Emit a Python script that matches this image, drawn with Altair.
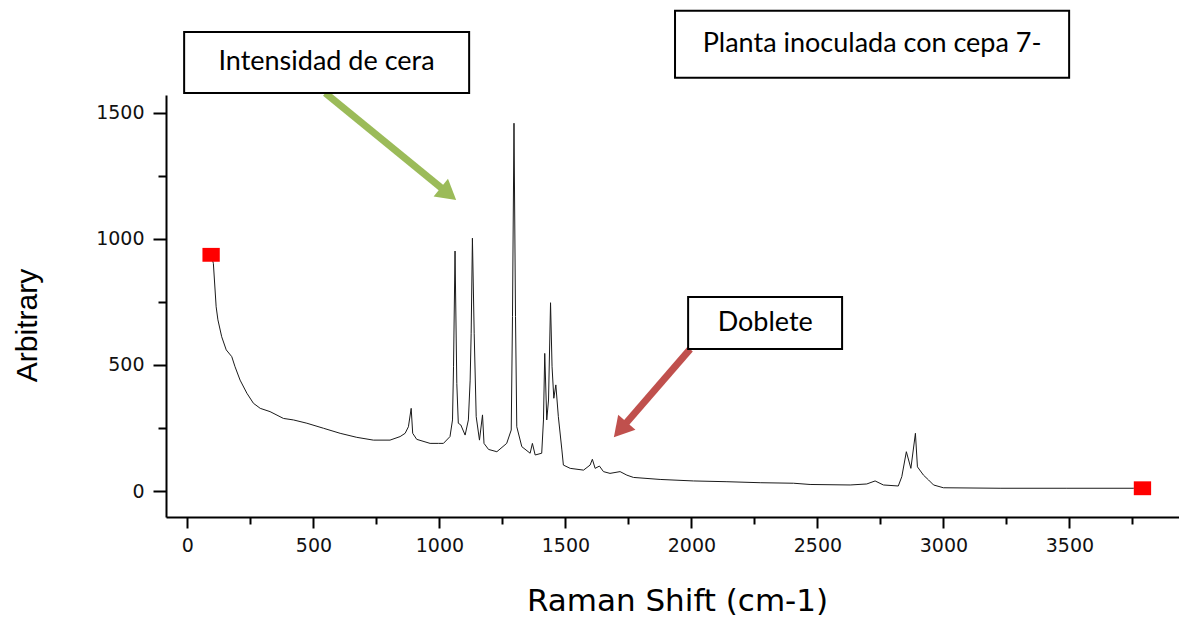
import altair as alt
import pandas as pd

# Spectrum values
shift = [94, 103, 114, 121, 136, 154, 176, 189, 209, 236, 262, 289, 328, 381, 421, 474, 540, 606, 672, 738,
         804, 844, 864, 877, 888, 894, 910, 963, 996, 1016, 1042, 1052, 1056, 1062, 1069, 1075, 1085, 1102,
         1115, 1122, 1126, 1131, 1138, 1146, 1159, 1171, 1177, 1195, 1228, 1267, 1285, 1290, 1296, 1302,
         1307, 1327, 1360, 1369, 1380, 1406, 1413, 1418, 1426, 1433, 1441, 1447, 1454, 1462, 1472, 1486,
         1492, 1519, 1572, 1598, 1607, 1618, 1635, 1651, 1677, 1717, 1744, 1770, 1876, 2008, 2141, 2273,
         2405, 2471, 2630, 2696, 2729, 2762, 2821, 2835, 2853, 2871, 2889, 2897, 2921, 2941, 2961, 3000,
         3225, 3490, 3754, 3790]
intensity = [937, 903, 731, 679, 612, 560, 533, 493, 440, 388, 348, 328, 315, 288, 282, 269, 249, 229, 213, 202,
             202, 216, 229, 255, 328, 229, 205, 189, 189, 189, 216, 282, 493, 952, 427, 269, 262, 222,
             282, 440, 626, 1003, 626, 295, 202, 302, 189, 165, 156, 189, 242, 692, 1459, 692,
             255, 176, 150, 189, 143, 150, 282, 546, 282, 361, 747, 493, 368, 421, 295, 163,
             103, 90, 83, 103, 126, 90, 99, 77, 70, 77, 63, 54, 46, 40, 37, 33,
             31, 26, 24, 28, 40, 24, 20, 57, 156, 90, 229, 96, 63, 44, 24, 13,
             11, 11, 11, 11]

x_major = [0, 500, 1000, 1500, 2000, 2500, 3000, 3500]
x_minor = [250, 750, 1250, 1750, 2250, 2750, 3250, 3750]
y_major = [0, 500, 1000, 1500]
y_minor = [250, 750, 1250]

box_labels = ["Intensidad de cera", "Planta inoculada con cepa 7-", "Doblete"]
box_x = [-13, 1935, 1987]
box_x2 = [1118, 3499, 2598]
box_y = [1821, 1905, 770]
box_y2 = [1579, 1639, 563]
text_x = [552, 2717, 2293]
text_y = [1702, 1774, 667]

arrow_x = [547, 1995]
arrow_y = [1579, 563]
arrow_x2 = [1036, 1718]
arrow_y2 = [1179, 243]
arrow_angle = [129, 221]
arrow_color = ["#9BBB59", "#C0504D"]

spec = pd.DataFrame({"x": shift, "y": intensity})
ends = spec.iloc[[0, len(spec) - 1]]
boxes = pd.DataFrame({"x": box_x, "x2": box_x2, "y": box_y, "y2": box_y2})
texts = pd.DataFrame({"x": text_x, "y": text_y, "label": box_labels})
arrows = pd.DataFrame({"x": arrow_x, "y": arrow_y, "x2": arrow_x2, "y2": arrow_y2,
                       "angle": arrow_angle, "color": arrow_color})

xs = alt.Scale(domain=[-85, 3935], nice=False, zero=False)
ys = alt.Scale(domain=[-103, 1571], nice=False, zero=False)

FONT = "Arial, Liberation Sans, sans-serif"
lab = dict(labelFont="DejaVu Sans", labelFontSize=19, labelColor="#111",
           domainColor="black", tickColor="black", grid=False)

x_major_axis = alt.Axis(values=x_major, orient="bottom", title="Raman Shift (cm-1)", tickSize=11, tickWidth=2,
                        domainWidth=2, labelPadding=8, titleFont="DejaVu Sans", titleFontSize=31,
                        titleFontWeight="normal", titleColor="black", titleX=511, titleY=84,
                        titleBaseline="middle", titleAlign="center", format="d", **lab)
y_major_axis = alt.Axis(values=y_major, orient="left", title="Arbitrary", tickSize=13, tickWidth=2,
                        domainWidth=2, labelPadding=9, titleFont=FONT, titleFontSize=30,
                        titleFontWeight="normal", titleColor="black", titleX=-139, titleY=230,
                        titleBaseline="middle", titleAlign="center", titleAngle=270, format="d", **lab)
x_minor_axis = alt.Axis(values=x_minor, orient="bottom", title=None, labels=False, tickSize=7, tickWidth=2,
                        domain=False, tickColor="black", grid=False)
y_minor_axis = alt.Axis(values=y_minor, orient="left", title=None, labels=False, tickSize=8, tickWidth=2,
                        domain=False, tickColor="black", grid=False)

line = alt.Chart(spec).mark_line(color="#1a1a1a", strokeWidth=1).encode(
    x=alt.X("x:Q", scale=xs, axis=x_major_axis),
    y=alt.Y("y:Q", scale=ys, axis=y_major_axis),
)

marks = alt.Chart(ends).mark_point(
    shape="M-1,-0.8L1,-0.8L1,0.8L-1,0.8Z", filled=True, size=300, color="#ff0000", opacity=1
).encode(
    x=alt.X("x:Q", scale=xs, axis=x_minor_axis),
    y=alt.Y("y:Q", scale=ys, axis=y_minor_axis),
)

rects = alt.Chart(boxes).mark_rect(fill="white", stroke="black", strokeWidth=2).encode(
    x=alt.X("x:Q", scale=xs, axis=None), x2="x2:Q",
    y=alt.Y("y:Q", scale=ys, axis=None), y2="y2:Q",
)

labels = alt.Chart(texts).mark_text(font="Lato", fontSize=27, color="black",
                                   align="center", baseline="middle").encode(
    x=alt.X("x:Q", scale=xs, axis=None),
    y=alt.Y("y:Q", scale=ys, axis=None),
    text="label:N",
)

shafts = alt.Chart(arrows).mark_rule(strokeWidth=7).encode(
    x=alt.X("x:Q", scale=xs, axis=None), x2="x2:Q",
    y=alt.Y("y:Q", scale=ys, axis=None), y2="y2:Q",
    color=alt.Color("color:N", scale=None, legend=None),
)

heads = alt.Chart(arrows).mark_point(shape="triangle-up", filled=True, size=520, opacity=1).encode(
    x=alt.X("x2:Q", scale=xs, axis=None),
    y=alt.Y("y2:Q", scale=ys, axis=None),
    angle=alt.Angle("angle:Q", scale=None),
    color=alt.Color("color:N", scale=None, legend=None),
)

chart = alt.layer(line, marks, shafts, heads, rects, labels).resolve_axis(
    x="independent", y="independent"
).properties(
    width=1013, height=422,
    autosize=alt.AutoSizeParams(type="none"),
    padding={"left": 158, "top": 87, "right": 0, "bottom": 100},
    background="white",
).configure_view(stroke=None)

chart.save("out.html", embed_options={"renderer": "svg", "actions": False})
